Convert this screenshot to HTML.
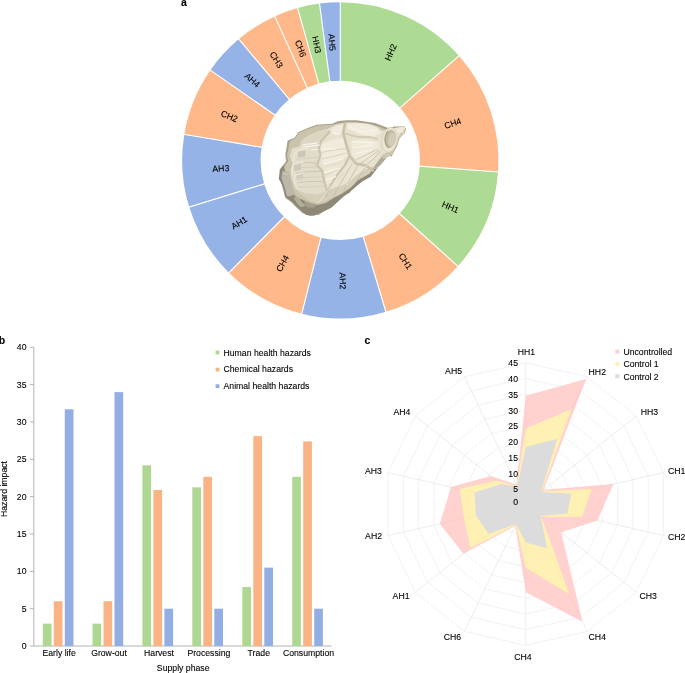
<!DOCTYPE html>
<html lang="en"><head><meta charset="utf-8"><title>Figure</title>
<style>html,body{margin:0;padding:0;background:#fff}body{width:685px;height:673px;overflow:hidden}svg{display:block}text{font-family:"Liberation Sans",Arial,Helvetica,sans-serif;font-size:8.7px;fill:#000;stroke:#000;stroke-width:.1px}.b{font-weight:bold;font-size:10.5px;fill:#000}</style></head><body>
<svg width="685" height="673" viewBox="0 0 685 673">
<rect width="685" height="673" fill="#fff"/>
<path d="M340.30 2.20A158.15 158.15 0 0 1 458.98 55.83L400.11 107.67A79.7 79.7 0 0 0 340.30 80.65Z" fill="#addb93"/>
<path d="M458.98 55.83A158.15 158.15 0 0 1 498.03 171.93L419.79 166.19A79.7 79.7 0 0 0 400.11 107.67Z" fill="#ffb88a"/>
<path d="M498.03 171.93A158.15 158.15 0 0 1 457.83 266.17L399.53 213.68A79.7 79.7 0 0 0 419.79 166.19Z" fill="#addb93"/>
<path d="M457.83 266.17A158.15 158.15 0 0 1 385.88 311.79L363.27 236.67A79.7 79.7 0 0 0 399.53 213.68Z" fill="#ffb88a"/>
<path d="M385.88 311.79A158.15 158.15 0 0 1 301.77 313.74L320.88 237.65A79.7 79.7 0 0 0 363.27 236.67Z" fill="#95b3e6"/>
<path d="M301.77 313.74A158.15 158.15 0 0 1 228.94 272.65L284.18 216.94A79.7 79.7 0 0 0 320.88 237.65Z" fill="#ffb88a"/>
<path d="M228.94 272.65A158.15 158.15 0 0 1 189.22 207.12L264.16 183.92A79.7 79.7 0 0 0 284.18 216.94Z" fill="#95b3e6"/>
<path d="M189.22 207.12A158.15 158.15 0 0 1 184.30 134.38L261.68 147.26A79.7 79.7 0 0 0 264.16 183.92Z" fill="#95b3e6"/>
<path d="M184.30 134.38A158.15 158.15 0 0 1 210.37 70.18L274.82 114.91A79.7 79.7 0 0 0 261.68 147.26Z" fill="#ffb88a"/>
<path d="M210.37 70.18A158.15 158.15 0 0 1 238.81 39.06L289.16 99.22A79.7 79.7 0 0 0 274.82 114.91Z" fill="#95b3e6"/>
<path d="M238.81 39.06A158.15 158.15 0 0 1 274.79 16.41L307.29 87.81A79.7 79.7 0 0 0 289.16 99.22Z" fill="#ffb88a"/>
<path d="M274.79 16.41A158.15 158.15 0 0 1 297.64 8.06L318.80 83.60A79.7 79.7 0 0 0 307.29 87.81Z" fill="#ffb88a"/>
<path d="M297.64 8.06A158.15 158.15 0 0 1 319.52 3.57L329.83 81.34A79.7 79.7 0 0 0 318.80 83.60Z" fill="#addb93"/>
<path d="M319.52 3.57A158.15 158.15 0 0 1 340.30 2.20L340.30 80.65A79.7 79.7 0 0 0 329.83 81.34Z" fill="#95b3e6"/>
<g stroke="#fff" stroke-width="1.15">
<path d="M340.30 1.20L340.30 81.65"/>
<path d="M459.74 55.16L399.36 108.34"/>
<path d="M499.02 172.01L418.79 166.11"/>
<path d="M458.57 266.84L398.79 213.01"/>
<path d="M386.17 312.75L362.98 235.71"/>
<path d="M301.53 314.71L321.13 236.68"/>
<path d="M228.24 273.36L284.88 216.23"/>
<path d="M188.27 207.41L265.12 183.62"/>
<path d="M183.31 134.22L262.67 147.43"/>
<path d="M209.55 69.61L275.64 115.48"/>
<path d="M238.17 38.29L289.80 99.99"/>
<path d="M274.38 15.50L307.70 88.72"/>
<path d="M297.37 7.10L319.07 84.57"/>
<path d="M319.39 2.58L329.96 82.33"/>
</g>
<g text-anchor="middle">
<text transform="translate(390.66 52.26) rotate(-65.69)" y="3.1">HH2</text>
<text transform="translate(452.71 123.17) rotate(-18.58)" y="3.1">CH4</text>
<text transform="translate(450.48 207.12) rotate(23.10)" y="3.1">HH1</text>
<text transform="translate(405.54 261.19) rotate(57.62)" y="3.1">CH1</text>
<text transform="translate(342.83 280.92) rotate(88.68)" y="3.1">AH2</text>
<text transform="translate(282.45 263.43) rotate(-60.57)" y="3.1">CH4</text>
<text transform="translate(239.11 222.60) rotate(-31.22)" y="3.1">AH1</text>
<text transform="translate(220.81 168.29) rotate(-3.88)" y="3.1">AH3</text>
<text transform="translate(229.45 116.24) rotate(22.11)" y="3.1">CH2</text>
<text transform="translate(252.42 80.11) rotate(42.42)" y="3.1">AH4</text>
<text transform="translate(276.43 59.71) rotate(57.80)" y="3.1">CH3</text>
<text transform="translate(300.69 48.51) rotate(69.94)" y="3.1">CH6</text>
<text transform="translate(316.75 44.62) rotate(78.40)" y="3.1">HH3</text>
<text transform="translate(332.05 42.34) rotate(86.23)" y="3.1">AH5</text>
</g>
<g id="oyster" transform="translate(270 100) scale(0.21898)" stroke-linejoin="round" stroke-linecap="round" fill="none">
<path d="M365 91L313 96L283 108L213 113L173 128L130 146L113 171L80 186L75 221L70 246L73 281L44 317L46 354L58 404L70 447L98 467L118 489L148 516L183 530L223 524L253 504L278 474L308 462L333 438L364 423L374 403L403 383L443 358L464 328L508 293L540 253L555 258L580 211L592 173L615 151L621 133L615 121L569 121L540 128L510 116L480 105L435 98L395 92L350 92Z" fill="#a8a18c"/>
<path d="M342 103L310 106L282 113L217 118L174 133L132 150L118 171L90 189L84 222L78 252L82 282L68 300L62 330L70 370L90 410L120 440L160 470L200 490L250 480L300 455L340 430L380 400L430 365L470 335L500 300L520 270L545 258L560 225L575 195L600 160L612 135L600 129L560 131L535 137L505 125L470 113L430 107L390 102L350 102Z" fill="#cbc4ad"/>
<path d="M60 300L45 322L40 360L62 400L70 440L100 465L130 492L165 525L200 527L240 512L280 492L310 465L335 442L370 415L420 372L460 350L490 312L470 318L440 345L400 368L370 400L330 428L290 448L255 470L215 480L180 478L150 455L115 445L100 420L80 380L72 330Z" fill="#8d8877"/>
<path d="M330 428L370 400L400 368L440 345L470 318L500 300L520 270L510 262L478 300L455 335L405 362L372 396L332 422Z" fill="#b1aa95"/>
<path d="M58 322L85 330L93 362L107 412L115 427L95 440L78 440L66 395L52 355Z" fill="#bcb7a9"/>
<path d="M60 335L80 340" stroke="#d5d1c6" stroke-width="4"/>
<path d="M108 447L130 442L145 467L165 482L140 490L120 467Z" fill="#b3ad9b"/>
<path d="M150 455L185 470L215 478L200 492L170 490Z" fill="#a49e8b"/>
<path d="M145 185L170 165L215 145L262 132L300 114L345 104L400 104L450 109L490 123L512 142L515 178L508 215L520 245L505 262L478 300L455 335L405 360L372 394L332 420L292 440L252 460L216 470L178 456L144 432L116 404L100 362L95 322L104 292L92 258L100 222L135 212Z" fill="#e7e1cf"/>
<path d="M145 185L170 165L215 145L262 132L272 146L235 185L160 205L135 212Z" fill="#ddd6c2"/>
<path d="M135 212L160 205L230 195L222 222L231 250L220 282L216 300L238 322L248 380L258 425L216 440L178 430L144 415L116 395L100 362L95 322L104 292L92 258L100 222Z" fill="#e2dccb"/>
<path d="M116 404L160 425L215 432L270 412L330 387L380 352L430 322L478 300L455 335L405 360L372 394L332 420L292 440L252 460L216 470L178 456L144 432Z" fill="#d5ceb9"/>
<path d="M275 140L300 118L340 108L335 150L300 162L280 152Z" fill="#efeadb"/>
<path d="M352 108L400 106L450 112L488 126L505 150L470 165L420 160L380 142L354 132Z" fill="#f1ecde"/>
<path d="M236 200L300 178L342 172L354 215L360 248L330 272L280 288L242 298L232 250Z" fill="#f0ebdc"/>
<path d="M372 186L430 180L490 190L500 225L470 268L430 283L397 278L374 250Z" fill="#efe9da"/>
<path d="M244 312L300 300L343 288L330 330L290 380L258 400L248 360Z" fill="#ede7d6"/>
<path d="M360 300L395 300L430 305L400 340L350 380L310 400L330 350Z" fill="#e9e3d1"/>
<path d="M343 108L334 150L350 210L364 255L392 290L440 300L470 322" stroke="#c9c1a9" stroke-width="12"/>
<path d="M364 255L340 300L300 352L272 400L254 440" stroke="#cbc3ab" stroke-width="10"/>
<path d="M272 145L232 190L222 222L231 250L220 282L216 300L238 322L250 380L262 420" stroke="#cbc3ab" stroke-width="10"/>
<path d="M340 152L372 162L410 170L450 168L490 178" stroke="#d2cab3" stroke-width="8"/>
<path d="M130 290L170 284L215 290M120 335L170 328L235 325M125 378L180 372L245 372" stroke="#cfc8b3" stroke-width="5"/>
<path d="M236 240C270 232 310 225 352 222M238 268C270 262 320 250 358 240M244 345C280 335 310 320 338 300M250 395C280 380 310 360 335 335" stroke="#d6cfba" stroke-width="4"/>
<path d="M120 270L215 262M112 310L218 305M118 355L240 350M130 398L250 395" stroke="#d3ccb8" stroke-width="3.5"/>
<path d="M505 235L440 300L385 385M498 230L400 300L335 418M490 225L380 280L290 440" stroke="#c3bba3" stroke-width="3.5"/>
<path d="M480 215L420 245L330 330L225 465M470 280L400 330L350 390" stroke="#f0ebdd" stroke-width="4" opacity=".85"/>
<path d="M150 203L210 198M190 228L220 225M238 222L300 224M285 150L318 156M150 215L225 206M245 292L335 268M358 124L420 146L480 138M376 190L470 196M382 218L470 205M394 244L460 228M250 330L320 312M256 365L300 350" stroke="#f8f5ec" stroke-width="5"/>
<path d="M128 235L162 231L162 258L128 264Z" fill="#cbc6ba"/>
<path d="M108 296L140 292L142 318L110 324Z" fill="#cec9bd"/>
<path d="M118 342L150 338L152 360L124 366Z" fill="#d2cdc1"/>
<path d="M107 280L112 245L130 227L175 220M100 340L103 300L118 288L150 284M112 385L114 345L150 332" stroke="#f3eee1" stroke-width="4"/>
<path d="M512 142L542 135L567 128L600 122L618 124L612 150L590 180L575 210L556 250L540 255L520 245L508 215L515 178Z" fill="#e9e3d0"/>
<path d="M590 180L575 210L556 250L540 255L520 245L535 238L562 212L580 180L598 150L612 150Z" fill="#cdc5ae"/>
<path d="M575 135L612 128L606 142L585 150Z" fill="#f1ecde"/>
<ellipse cx="546" cy="182" rx="35" ry="57" transform="rotate(10 546 182)" fill="#ebe5d3" stroke="#d3ccb6" stroke-width="3"/>
<ellipse cx="549" cy="178" rx="25" ry="42" transform="rotate(10 549 178)" fill="#c1b9a2"/>
<ellipse cx="556" cy="180" rx="16" ry="33" transform="rotate(10 556 180)" fill="#d2cbb5"/>
<path d="M538 143C520 166 522 202 542 217" stroke="#aaa28c" stroke-width="6"/>
</g>
<text class="b" x="181" y="5.7">a</text>
<text class="b" x="-1.2" y="343.6">b</text>
<g stroke="#b4b4b4" stroke-width="1" fill="none">
<path d="M33.8 347.3V646.0H331.6"/>
<path d="M29.8 646.05H33.8"/>
<path d="M29.8 608.70H33.8"/>
<path d="M29.8 571.36H33.8"/>
<path d="M29.8 534.01H33.8"/>
<path d="M29.8 496.67H33.8"/>
<path d="M29.8 459.32H33.8"/>
<path d="M29.8 421.98H33.8"/>
<path d="M29.8 384.63H33.8"/>
<path d="M29.8 347.29H33.8"/>
</g>
<g text-anchor="end">
<text x="26.5" y="649.15">0</text>
<text x="26.5" y="611.80">5</text>
<text x="26.5" y="574.46">10</text>
<text x="26.5" y="537.12">15</text>
<text x="26.5" y="499.77">20</text>
<text x="26.5" y="462.42">25</text>
<text x="26.5" y="425.08">30</text>
<text x="26.5" y="387.73">35</text>
<text x="26.5" y="350.39">40</text>
</g>
<rect x="42.80" y="623.64" width="8.70" height="22.41" fill="#aed792"/>
<rect x="53.80" y="601.24" width="8.70" height="44.81" fill="#f9b384"/>
<rect x="64.80" y="409.28" width="8.70" height="236.77" fill="#92aee3"/>
<rect x="92.50" y="623.64" width="8.70" height="22.41" fill="#aed792"/>
<rect x="103.50" y="601.24" width="8.70" height="44.81" fill="#f9b384"/>
<rect x="114.50" y="392.10" width="8.70" height="253.95" fill="#92aee3"/>
<rect x="142.40" y="465.30" width="8.70" height="180.75" fill="#aed792"/>
<rect x="153.40" y="489.95" width="8.70" height="156.10" fill="#f9b384"/>
<rect x="164.40" y="608.70" width="8.70" height="37.34" fill="#92aee3"/>
<rect x="192.30" y="487.33" width="8.70" height="158.72" fill="#aed792"/>
<rect x="203.30" y="476.80" width="8.70" height="169.25" fill="#f9b384"/>
<rect x="214.30" y="608.70" width="8.70" height="37.34" fill="#92aee3"/>
<rect x="242.30" y="587.04" width="8.70" height="59.01" fill="#aed792"/>
<rect x="253.30" y="436.17" width="8.70" height="209.88" fill="#f9b384"/>
<rect x="264.30" y="567.63" width="8.70" height="78.42" fill="#92aee3"/>
<rect x="292.20" y="476.80" width="8.70" height="169.25" fill="#aed792"/>
<rect x="303.20" y="441.40" width="8.70" height="204.65" fill="#f9b384"/>
<rect x="314.20" y="608.70" width="8.70" height="37.34" fill="#92aee3"/>
<g text-anchor="middle">
<text x="59.1" y="656.4">Early life</text>
<text x="109.0" y="656.4">Grow-out</text>
<text x="159.0" y="656.4">Harvest</text>
<text x="208.9" y="656.4">Processing</text>
<text x="258.8" y="656.4">Trade</text>
<text x="308.5" y="656.4">Consumption</text>
<text x="183.2" y="671.2">Supply phase</text>
<text transform="translate(7.1 489) rotate(-90)">Hazard impact</text>
</g>
<rect x="215.6" y="350.5" width="3.8" height="3.8" fill="#aed792"/>
<text x="223.5" y="355.7">Human health hazards</text>
<rect x="215.6" y="367.7" width="3.8" height="3.8" fill="#f9b384"/>
<text x="223.5" y="372.3">Chemical hazards</text>
<rect x="215.6" y="384.3" width="3.8" height="3.8" fill="#92aee3"/>
<text x="223.5" y="389.4">Animal health hazards</text>
<text class="b" x="364.5" y="343.8">c</text>
<g stroke="#eeeeee" stroke-width="0.75" fill="none">
<polygon points="525.80,488.40 532.61,489.95 538.07,494.31 541.11,500.61 541.11,507.59 538.07,513.89 532.61,518.25 525.80,519.80 518.99,518.25 513.53,513.89 510.49,507.59 510.49,500.61 513.53,494.31 518.99,489.95"/>
<polygon points="525.80,472.70 539.42,475.81 550.35,484.52 556.41,497.11 556.41,511.09 550.35,523.68 539.42,532.39 525.80,535.50 512.18,532.39 501.25,523.68 495.19,511.09 495.19,497.11 501.25,484.52 512.18,475.81"/>
<polygon points="525.80,457.00 546.24,461.66 562.62,474.73 571.72,493.62 571.72,514.58 562.62,533.47 546.24,546.54 525.80,551.20 505.36,546.54 488.98,533.47 479.88,514.58 479.88,493.62 488.98,474.73 505.36,461.66"/>
<polygon points="525.80,441.30 553.05,447.52 574.90,464.94 587.03,490.13 587.03,518.07 574.90,543.26 553.05,560.68 525.80,566.90 498.55,560.68 476.70,543.26 464.57,518.07 464.57,490.13 476.70,464.94 498.55,447.52"/>
<polygon points="525.80,425.60 559.86,433.37 587.17,455.16 602.33,486.63 602.33,521.57 587.17,553.04 559.86,574.83 525.80,582.60 491.74,574.83 464.43,553.04 449.27,521.57 449.27,486.63 464.43,455.16 491.74,433.37"/>
<polygon points="525.80,409.90 566.67,419.23 599.45,445.37 617.64,483.14 617.64,525.06 599.45,562.83 566.67,588.97 525.80,598.30 484.93,588.97 452.15,562.83 433.96,525.06 433.96,483.14 452.15,445.37 484.93,419.23"/>
<polygon points="525.80,394.20 573.48,405.08 611.72,435.58 632.94,479.64 632.94,528.56 611.72,572.62 573.48,603.12 525.80,614.00 478.12,603.12 439.88,572.62 418.66,528.56 418.66,479.64 439.88,435.58 478.12,405.08"/>
<polygon points="525.80,378.50 580.30,390.94 624.00,425.79 648.25,476.15 648.25,532.05 624.00,582.41 580.30,617.26 525.80,629.70 471.30,617.26 427.60,582.41 403.35,532.05 403.35,476.15 427.60,425.79 471.30,390.94"/>
<polygon points="525.80,362.80 587.11,376.79 636.27,416.00 663.56,472.66 663.56,535.54 636.27,592.20 587.11,631.41 525.80,645.40 464.49,631.41 415.33,592.20 388.04,535.54 388.04,472.66 415.33,416.00 464.49,376.79"/>
<path d="M525.80 504.10L525.80 362.80"/>
<path d="M525.80 504.10L587.11 376.79"/>
<path d="M525.80 504.10L636.27 416.00"/>
<path d="M525.80 504.10L663.56 472.66"/>
<path d="M525.80 504.10L663.56 535.54"/>
<path d="M525.80 504.10L636.27 592.20"/>
<path d="M525.80 504.10L587.11 631.41"/>
<path d="M525.80 504.10L525.80 645.40"/>
<path d="M525.80 504.10L464.49 631.41"/>
<path d="M525.80 504.10L415.33 592.20"/>
<path d="M525.80 504.10L388.04 535.54"/>
<path d="M525.80 504.10L388.04 472.66"/>
<path d="M525.80 504.10L415.33 416.00"/>
<path d="M525.80 504.10L464.49 376.79"/>
</g>
<polygon points="525.80,395.77 586.02,379.06 543.72,489.81 613.35,484.12 597.43,520.45 561.15,532.29 582.48,621.79 525.80,592.33 515.31,525.88 463.44,553.83 439.78,523.73 451.10,487.05 490.69,476.10 516.40,484.58" fill="#ffd1cf"/>
<polygon points="525.80,428.43 571.58,409.04 542.00,491.18 591.92,489.01 582.13,516.96 541.51,516.63 569.26,594.35 525.80,567.84 515.85,524.75 470.32,548.35 463.96,518.21 459.68,489.01 496.34,480.61 516.94,485.71" fill="#fff0b3"/>
<g stroke="#000" stroke-opacity="0.03" stroke-width="0.8" fill="none">
<path d="M525.80 504.10L525.80 362.80"/>
<path d="M525.80 504.10L587.11 376.79"/>
<path d="M525.80 504.10L636.27 416.00"/>
<path d="M525.80 504.10L663.56 472.66"/>
<path d="M525.80 504.10L663.56 535.54"/>
<path d="M525.80 504.10L636.27 592.20"/>
<path d="M525.80 504.10L587.11 631.41"/>
<path d="M525.80 504.10L525.80 645.40"/>
<path d="M525.80 504.10L464.49 631.41"/>
<path d="M525.80 504.10L415.33 592.20"/>
<path d="M525.80 504.10L388.04 535.54"/>
<path d="M525.80 504.10L388.04 472.66"/>
<path d="M525.80 504.10L415.33 416.00"/>
<path d="M525.80 504.10L464.49 376.79"/>
</g>
<polygon points="525.80,446.95 557.14,439.03 541.02,491.96 571.41,493.69 567.13,513.53 540.78,516.04 547.05,548.23 525.80,542.41 516.13,524.19 488.48,533.86 475.90,515.49 474.68,492.43 500.76,484.13 517.22,486.28" fill="#dcdcdc"/>
<g text-anchor="end">
<text x="518" y="366.4">45</text>
<text x="518" y="381.8">40</text>
<text x="518" y="397.7">35</text>
<text x="518" y="413.5">30</text>
<text x="518" y="429.2">25</text>
<text x="518" y="445.1">20</text>
<text x="518" y="460.9">15</text>
<text x="518" y="476.6">10</text>
<text x="518" y="492.4">5</text>
<text x="518" y="504.5">0</text>
</g>
<text text-anchor="middle" x="526.4" y="355.4">HH1</text>
<text text-anchor="start" x="588.6" y="374.6">HH2</text>
<text text-anchor="start" x="640.7" y="415.2">HH3</text>
<text text-anchor="start" x="668.0" y="473.9">CH1</text>
<text text-anchor="start" x="668.0" y="539.9">CH2</text>
<text text-anchor="start" x="639.4" y="599.4">CH3</text>
<text text-anchor="start" x="588.6" y="640.4">CH4</text>
<text text-anchor="middle" x="522.9" y="660.4">CH4</text>
<text text-anchor="end" x="461.2" y="640.0">CH6</text>
<text text-anchor="end" x="409.5" y="598.8">AH1</text>
<text text-anchor="end" x="382.0" y="539.3">AH2</text>
<text text-anchor="end" x="381.8" y="473.9">AH3</text>
<text text-anchor="end" x="410.3" y="415.4">AH4</text>
<text text-anchor="end" x="462.0" y="374.1">AH5</text>
<rect x="615.3" y="349.6" width="4" height="4" fill="#ffd1cf"/>
<text x="623.4" y="355.0">Uncontrolled</text>
<rect x="615.3" y="361.8" width="4" height="4" fill="#fff0b3"/>
<text x="623.4" y="367.4">Control 1</text>
<rect x="615.3" y="374.3" width="4" height="4" fill="#dcdcdc"/>
<text x="623.4" y="379.9">Control 2</text>
</svg></body></html>
